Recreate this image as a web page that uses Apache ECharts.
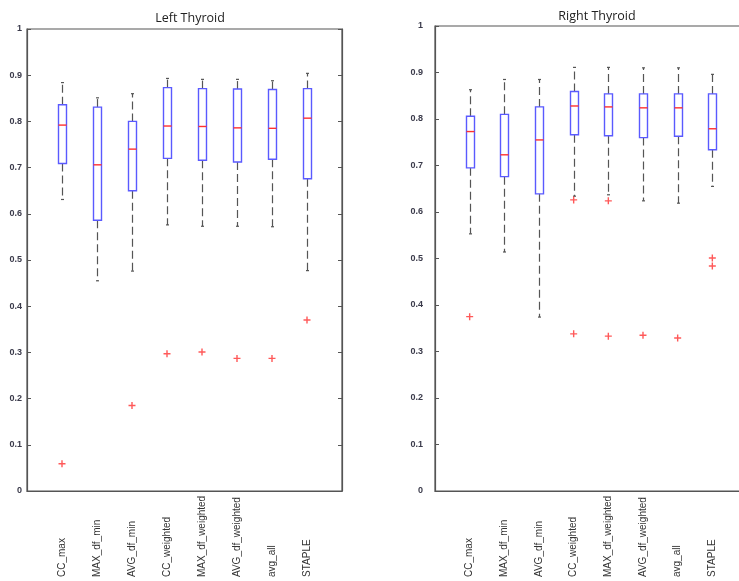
<!DOCTYPE html>
<html lang="en">
<head>
    <meta http-equiv="Content-Type" content="text/html; charset=utf-8"/>
    <title>Thyroid boxplots</title>
    <script src="https://cdn.jsdelivr.net/npm/echarts@6/dist/echarts.min.js"></script>
</head>
<body style="margin:0;background:#fff;">
<style>
    #chart {
        width: 739px;
        height: 581px;
    }
</style>
<div id="chart"></div>
<script type="text/javascript">

  var categories = ['CC_max', 'MAX_df_min', 'AVG_df_min', 'CC_weighted', 'MAX_df_weighted', 'AVG_df_weighted', 'avg_all', 'STAPLE'];
  var yTicks = [0, 0.1, 0.2, 0.3, 0.4, 0.5, 0.6, 0.7, 0.8, 0.9, 1];

  // [lower whisker, q1, median, q3, upper whisker]
  var leftBoxes = [
    [0.631, 0.709, 0.792, 0.836, 0.884],
    [0.455, 0.586, 0.706, 0.831, 0.851],
    [0.476, 0.650, 0.740, 0.800, 0.860],
    [0.576, 0.720, 0.790, 0.873, 0.893],
    [0.573, 0.716, 0.789, 0.871, 0.891],
    [0.573, 0.712, 0.786, 0.870, 0.891],
    [0.572, 0.718, 0.785, 0.869, 0.888],
    [0.477, 0.676, 0.807, 0.871, 0.904]
  ];
  // [category index (1-based), value]
  var leftOutliers = [
    [1, 0.059], [3, 0.185], [4, 0.297], [5, 0.301], [6, 0.287], [7, 0.287], [8, 0.370]
  ];

  var rightBoxes = [
    [0.553, 0.695, 0.773, 0.806, 0.863],
    [0.514, 0.676, 0.723, 0.810, 0.885],
    [0.374, 0.639, 0.755, 0.826, 0.885],
    [0.634, 0.766, 0.828, 0.859, 0.911],
    [0.637, 0.764, 0.826, 0.854, 0.911],
    [0.624, 0.760, 0.824, 0.854, 0.910],
    [0.619, 0.763, 0.824, 0.854, 0.910],
    [0.655, 0.734, 0.779, 0.854, 0.896]
  ];
  var rightOutliers = [
    [1, 0.375], [4, 0.626], [4, 0.338], [5, 0.624], [5, 0.333],
    [6, 0.335], [7, 0.329], [8, 0.501], [8, 0.484]
  ];

  var AXIS_COLOR = '#555';
  var BOX_COLOR = '#5a5aff';
  var MEDIAN_COLOR = '#ff3030';
  var WHISKER_COLOR = '#555';
  var PLUS = 'path://M4,0L6,0L6,4L10,4L10,6L6,6L6,10L4,10L4,6L0,6L0,4L4,4Z';

  function boxData(boxes) {
    return boxes.map(function (b, i) {
      return [i + 1].concat(b);
    });
  }

  function renderBox(params, api) {
    var x = api.value(0);
    var pLow = api.coord([x, api.value(1)]);
    var pQ1 = api.coord([x, api.value(2)]);
    var pMed = api.coord([x, api.value(3)]);
    var pQ3 = api.coord([x, api.value(4)]);
    var pHigh = api.coord([x, api.value(5)]);
    var cx = Math.round(pQ1[0]) + 0.5;
    var half = 4;
    var cap = 1.5;
    var dash = {stroke: WHISKER_COLOR, lineWidth: 1.2, lineDash: [8, 4]};
    var solid = {stroke: WHISKER_COLOR, lineWidth: 1.2};
    return {
      type: 'group',
      children: [
        {type: 'line', shape: {x1: cx, y1: pQ3[1], x2: cx, y2: pHigh[1]}, style: dash},
        {type: 'line', shape: {x1: cx, y1: pQ1[1], x2: cx, y2: pLow[1]}, style: dash},
        {type: 'line', shape: {x1: cx - cap, y1: pHigh[1], x2: cx + cap, y2: pHigh[1]}, style: solid},
        {type: 'line', shape: {x1: cx - cap, y1: pLow[1], x2: cx + cap, y2: pLow[1]}, style: solid},
        {
          type: 'rect',
          shape: {x: cx - half, y: pQ3[1], width: half * 2, height: pQ1[1] - pQ3[1]},
          style: {fill: '#fff', stroke: BOX_COLOR, lineWidth: 1.4}
        },
        {type: 'line', shape: {x1: cx - half, y1: pMed[1], x2: cx + half, y2: pMed[1]}, style: {stroke: MEDIAN_COLOR, lineWidth: 1.4}}
      ]
    };
  }

  function makeXAxis(gridIndex) {
    return {
      type: 'value',
      gridIndex: gridIndex,
      min: 0,
      max: 9,
      interval: 1,
      splitLine: {show: false},
      axisLine: {show: true, lineStyle: {color: AXIS_COLOR, width: 1.2}},
      axisTick: {show: false},
      axisLabel: {
        rotate: 90,
        align: 'left',
        verticalAlign: 'middle',
        margin: 86,
        fontFamily: 'Liberation Sans',
        fontSize: 10,
        color: '#333',
        formatter: function (v) {
          return categories[v - 1] || '';
        }
      }
    };
  }

  function makeYAxes(gridIndex, labelMargin) {
    var base = {
      type: 'value',
      gridIndex: gridIndex,
      min: yTicks[0],
      max: yTicks[yTicks.length - 1],
      interval: 0.1,
      splitLine: {show: false},
      axisLine: {show: true, lineStyle: {color: AXIS_COLOR, width: 1.2}},
      axisTick: {show: true, inside: true, length: 4, lineStyle: {color: AXIS_COLOR}}
    };
    var leftAxis = Object.assign({}, base, {
      position: 'left',
      axisLabel: {
        margin: labelMargin,
        fontFamily: 'Liberation Sans',
        fontSize: 9,
        fontWeight: 'bold',
        color: '#3a3a4a',
        formatter: function (v) {
          return String(Math.round(v * 10) / 10);
        }
      }
    });
    var rightAxis = Object.assign({}, base, {
      position: 'right',
      axisLabel: {show: false}
    });
    return [leftAxis, rightAxis];
  }

  var chart = echarts.init(document.getElementById('chart'), null, {renderer: 'canvas'});

  var option = {
    animation: false,
    backgroundColor: '#fff',
    title: [
      {text: 'Left Thyroid', left: 185, top: 7, textAlign: 'center',
        textStyle: {fontFamily: 'Open Sans', fontSize: 12.5, fontWeight: 'normal', color: '#222'}},
      {text: 'Right Thyroid', left: 592, top: 5, textAlign: 'center',
        textStyle: {fontFamily: 'Open Sans', fontSize: 12.5, fontWeight: 'normal', color: '#222'}}
    ],
    grid: [
      {left: 27, top: 29, width: 315, height: 462, show: true, borderColor: AXIS_COLOR, borderWidth: 1.2,
        outerBoundsMode: 'none', containLabel: false},
      {left: 435, top: 26, width: 312, height: 465, show: true, borderColor: AXIS_COLOR, borderWidth: 1.2,
        outerBoundsMode: 'none', containLabel: false}
    ],
    xAxis: [makeXAxis(0), makeXAxis(1)],
    yAxis: makeYAxes(0, 5).concat(makeYAxes(1, 12)),
    series: [
      {type: 'custom', xAxisIndex: 0, yAxisIndex: 0, renderItem: renderBox, data: boxData(leftBoxes), z: 2},
      {type: 'scatter', xAxisIndex: 0, yAxisIndex: 0, symbol: PLUS, symbolSize: 7,
        itemStyle: {color: '#ff3030'}, data: leftOutliers, z: 3},
      {type: 'custom', xAxisIndex: 1, yAxisIndex: 2, renderItem: renderBox, data: boxData(rightBoxes), z: 2},
      {type: 'scatter', xAxisIndex: 1, yAxisIndex: 2, symbol: PLUS, symbolSize: 7,
        itemStyle: {color: '#ff3030'}, data: rightOutliers, z: 3}
    ]
  };

  chart.setOption(option);
</script>
</body>
</html>
